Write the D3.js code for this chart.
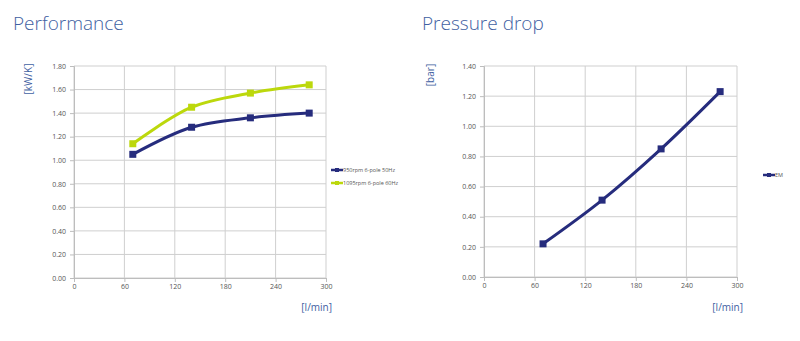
<!DOCTYPE html>
<html>
<head>
<meta charset="utf-8">
<script src="https://cdn.jsdelivr.net/npm/d3@7"></script>
<style>
  html, body { margin: 0; padding: 0; background: #fff; }
  svg { display: block; font-family: "Open Sans", "Noto Sans", sans-serif; }
</style>
</head>
<body>
<svg id="chart" width="800" height="341"></svg>
<script>
// Flow rates (l/min) shared by both charts
const flow = [70, 140, 210, 280];

// Performance (kW/K)
const perf50Hz = [1.05, 1.28, 1.36, 1.40];
const perf60Hz = [1.14, 1.45, 1.57, 1.64];
const perfSeriesNames = ["950rpm 6-pole 50Hz", "1095rpm 6-pole 60Hz"];

// Pressure drop (bar)
const pressureEM = [0.22, 0.51, 0.85, 1.23];
const pressureSeriesName = "EM";

// Axis ticks
const xTicks = [0, 60, 120, 180, 240, 300];
const perfTicks = [0, 0.2, 0.4, 0.6, 0.8, 1.0, 1.2, 1.4, 1.6, 1.8];
const pressureTicks = [0, 0.2, 0.4, 0.6, 0.8, 1.0, 1.2, 1.4];

const C_DARK = "#262c7d";
const C_GREEN = "#bcd80c";
const C_TITLE = "#3f61a2";
const C_GRID = "#cfcfcf";
const C_TICKTEXT = "#555";

const svg = d3.select("#chart");
const fmt = d3.format(".2f");

function panel(opts) {
  const g = svg.append("g");
  const x = d3.scaleLinear().domain([0, 300]).range([opts.x0, opts.x1]);
  const y = d3.scaleLinear().domain([0, opts.yMax]).range([opts.y0, opts.y1]);

  // title
  g.append("text")
    .attr("x", opts.titleX).attr("y", 30)
    .attr("fill", C_TITLE).attr("font-size", 19)
    .attr("font-weight", 300)
    .text(opts.title);

  // grid
  g.append("g").selectAll("line.h").data(opts.yTicks).join("line")
    .attr("x1", x(0)).attr("x2", x(300))
    .attr("y1", d => y(d)).attr("y2", d => y(d))
    .attr("stroke", C_GRID).attr("stroke-width", 1);
  g.append("g").selectAll("line.v").data(xTicks).join("line")
    .attr("x1", d => x(d)).attr("x2", d => x(d))
    .attr("y1", y(0)).attr("y2", y(opts.yMax))
    .attr("stroke", C_GRID).attr("stroke-width", 1);

  // axes
  const yAxis = d3.axisLeft(y).tickValues(opts.yTicks).tickFormat(fmt).tickSize(4).tickPadding(4);
  const ya = g.append("g").attr("transform", `translate(${x(0)},0)`).call(yAxis);
  const xAxis = d3.axisBottom(x).tickValues(xTicks).tickSize(4).tickPadding(2);
  const xa = g.append("g").attr("transform", `translate(0,${y(0)})`).call(xAxis);
  [ya, xa].forEach(a => {
    a.select(".domain").attr("stroke", "#bdbdbd");
    a.selectAll(".tick line").attr("stroke", "#bdbdbd");
    a.selectAll(".tick text").attr("fill", C_TICKTEXT).attr("font-size", 7)
      .attr("font-family", "'Open Sans', sans-serif");
  });

  // unit labels
  g.append("text")
    .attr("transform", `translate(${opts.yUnitX},${opts.yUnitY}) rotate(-90)`)
    .attr("text-anchor", "middle").attr("fill", C_TITLE).attr("font-size", 10)
    .text(opts.yUnit);
  g.append("text")
    .attr("x", x(300) + 6).attr("y", 311)
    .attr("text-anchor", "end").attr("fill", C_TITLE).attr("font-size", 10)
    .text("[l/min]");

  // series
  const line = d3.line()
    .x((d, i) => x(flow[i]))
    .y(d => y(d))
    .curve(d3.curveCatmullRom.alpha(0.5));

  opts.series.forEach((s, k) => {
    g.append("path").datum(s.values)
      .attr("d", line).attr("fill", "none")
      .attr("stroke", s.color).attr("stroke-width", 3)
      .attr("stroke-linejoin", "round");
    g.append("g").selectAll("rect").data(s.values).join("rect")
      .attr("x", (d, i) => x(flow[i]) - 3.5).attr("y", d => y(d) - 3.5)
      .attr("width", 7).attr("height", 7).attr("fill", s.color);

    // legend
    const ly = opts.legendY + k * 13;
    const lg = g.append("g").attr("transform", `translate(${opts.legendX},${ly})`);
    lg.append("line").attr("x1", 0).attr("x2", 12).attr("y1", 0).attr("y2", 0)
      .attr("stroke", s.color).attr("stroke-width", 2.5);
    lg.append("rect").attr("x", 4).attr("y", -2).attr("width", 4).attr("height", 4).attr("fill", s.color);
    lg.append("text").attr("x", 12).attr("y", 2).attr("font-size", 5.5)
      .attr("fill", "#555").text(s.name);
  });
}

panel({
  title: "Performance", titleX: 13,
  x0: 74, x1: 326, y0: 278, y1: 66, yMax: 1.8, yTicks: perfTicks,
  yUnit: "[kW/K]", yUnitX: 32, yUnitY: 79,
  legendX: 331, legendY: 170,
  series: [
    { name: perfSeriesNames[0], values: perf50Hz, color: C_DARK },
    { name: perfSeriesNames[1], values: perf60Hz, color: C_GREEN }
  ]
});

panel({
  title: "Pressure drop", titleX: 422,
  x0: 484, x1: 737, y0: 277, y1: 66, yMax: 1.4, yTicks: pressureTicks,
  yUnit: "[bar]", yUnitX: 434, yUnitY: 75,
  legendX: 763, legendY: 175,
  series: [
    { name: pressureSeriesName, values: pressureEM, color: C_DARK }
  ]
});
</script>
</body>
</html>
